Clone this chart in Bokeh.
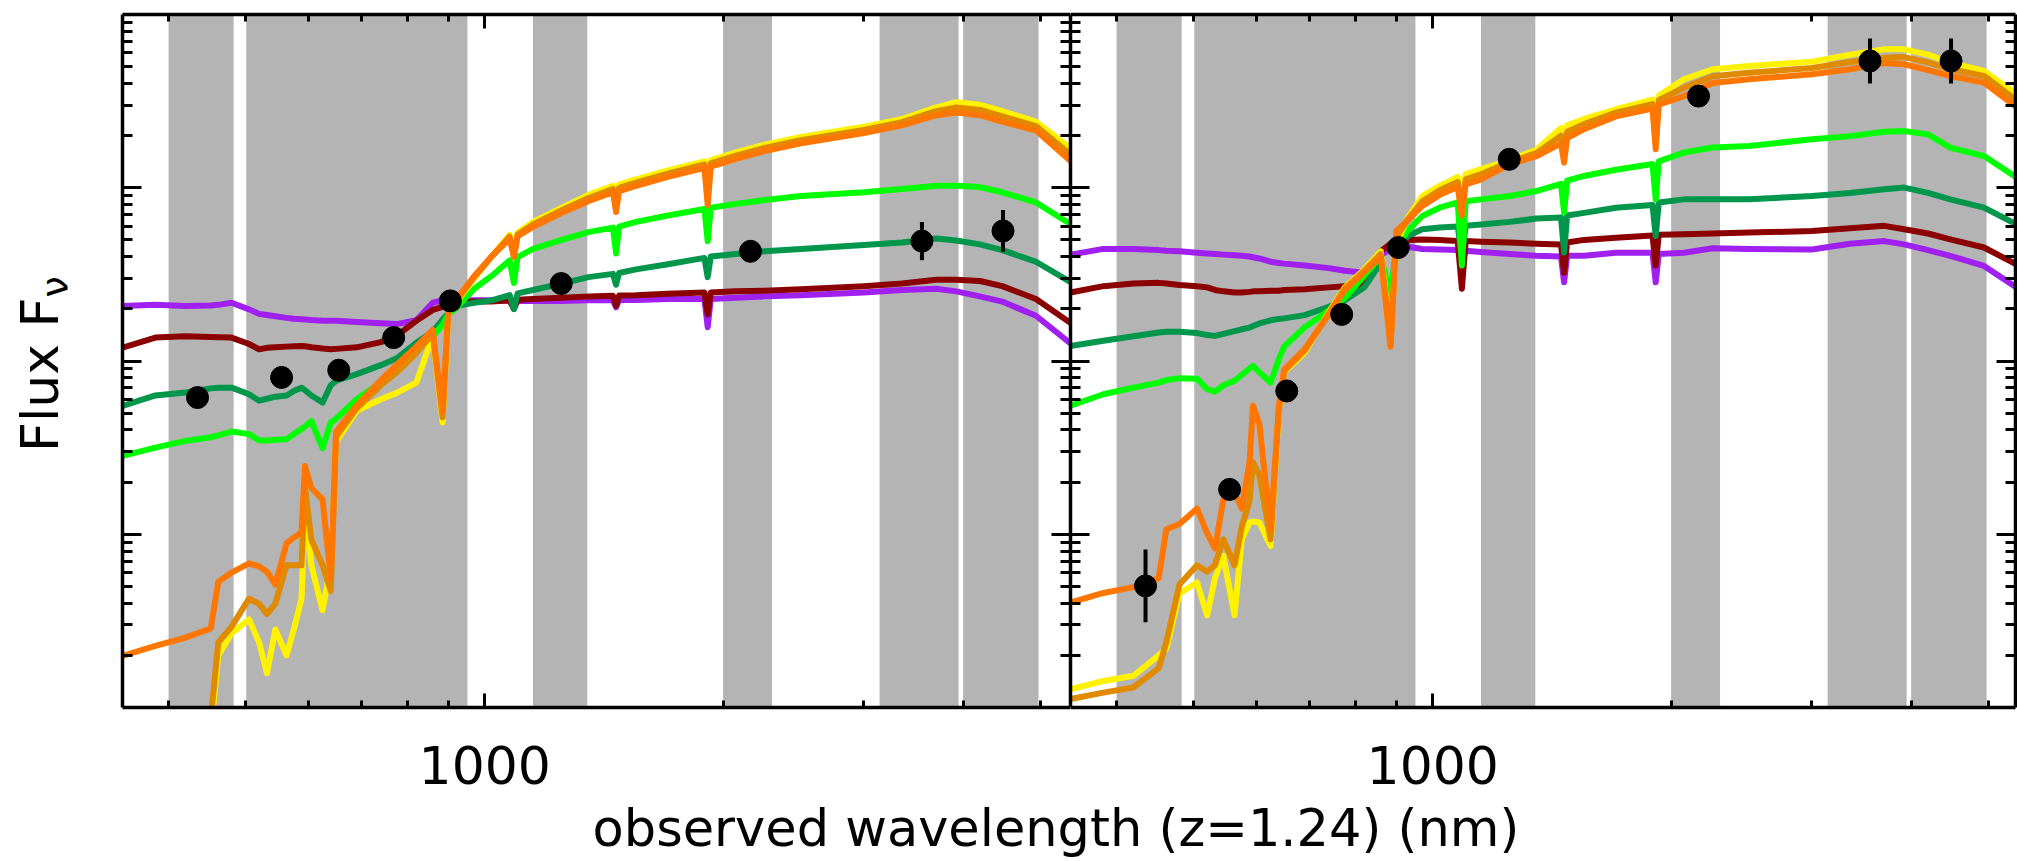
import math
from bokeh.plotting import figure
from bokeh.models import (LogAxis, FixedTicker, CustomJSTickFormatter, PrintfTickFormatter,
                          BoxAnnotation, Div)
from bokeh.layouts import row, column
from bokeh.embed import file_html
from bokeh.resources import INLINE

# ---------------- data ----------------
# observed wavelength grid of the model spectra (nm)
wavelength_nm = [350, 385, 420, 452, 462, 480, 505, 520, 532, 545,
                 563, 575, 588, 594, 605, 625, 640, 650, 690, 740,
                 775, 820, 860, 885, 900, 930, 970, 1020, 1075, 1088,
                 1100, 1150, 1250, 1350, 1450, 1463, 1476, 1550, 1700, 1890,
                 1908, 1925, 2070, 2250, 2500, 3000, 3350, 3700, 3920, 4200,
                 4480, 4940, 5470]

# log10 F_nu (arbitrary units) of the seven model spectra, left galaxy
left_purple_log = [0.318, 0.324, 0.317, 0.321, 0.324, 0.336, 0.298, 0.272, 0.265, 0.258,
                   0.249, 0.244, 0.241, 0.239, 0.236, 0.233, 0.232, 0.232, 0.225, 0.218,
                   0.213, 0.235, 0.336, 0.350, 0.350, 0.350, 0.350, 0.350, 0.347, 0.31,
                   0.347, 0.347, 0.347, 0.350, 0.350, 0.31, 0.352, 0.352, 0.358, 0.358,
                   0.195, 0.358, 0.365, 0.373, 0.380, 0.395, 0.410, 0.417, 0.402, 0.373,
                   0.343, 0.261, 0.098]
left_darkred_log = [0.077, 0.135, 0.143, 0.139, 0.137, 0.135, 0.098, 0.068, 0.076, 0.079,
                    0.083, 0.085, 0.087, 0.085, 0.079, 0.072, 0.068, 0.070, 0.079, 0.109,
                    0.146, 0.232, 0.295, 0.313, 0.324, 0.336, 0.343, 0.343, 0.350, 0.30,
                    0.354, 0.358, 0.365, 0.373, 0.376, 0.32, 0.378, 0.380, 0.388, 0.395,
                    0.269, 0.395, 0.402, 0.406, 0.414, 0.432, 0.447, 0.469, 0.469, 0.462,
                    0.432, 0.358, 0.217]
left_darkgreen_log = [-0.259, -0.199, -0.182, -0.158, -0.154, -0.154, -0.192, -0.229, -0.218, -0.206,
                      -0.199, -0.173, -0.154, -0.169, -0.199, -0.240, -0.140, -0.114, -0.076, -0.024,
                      0.016, 0.105, 0.169, 0.239, 0.276, 0.321, 0.336, 0.350, 0.380, 0.30,
                      0.390, 0.410, 0.447, 0.484, 0.503, 0.44, 0.508, 0.529, 0.558, 0.595,
                      0.484, 0.603, 0.618, 0.633, 0.647, 0.670, 0.684, 0.707, 0.696, 0.673,
                      0.640, 0.573, 0.454]
left_green_log = [-0.548, -0.500, -0.461, -0.440, -0.429, -0.407, -0.422, -0.459, -0.459, -0.455,
                  -0.451, -0.422, -0.393, -0.377, -0.347, -0.503, -0.355, -0.333, -0.221, -0.125,
                  -0.050, 0.076, 0.143, 0.209, 0.269, 0.328, 0.417, 0.491, 0.581, 0.45,
                  0.600, 0.647, 0.699, 0.744, 0.770, 0.62, 0.775, 0.803, 0.840, 0.877,
                  0.692, 0.885, 0.907, 0.929, 0.952, 0.974, 0.993, 1.011, 1.011, 1.004,
                  0.974, 0.915, 0.788]
left_orange_log = [-1.702, -1.645, -1.597, -1.543, -1.275, -1.221, -1.168, -1.186, -1.216, -1.290,
                   -1.053, -1.019, -0.990, -0.606, -0.733, -0.800, -1.253, -0.407, -0.258, -0.110,
                   -0.021, 0.083, 0.180, -0.295, 0.306, 0.380, 0.491, 0.603, 0.707, 0.60,
                   0.720, 0.774, 0.855, 0.922, 0.974, 0.86, 0.980, 1.011, 1.063, 1.115,
                   0.900, 1.122, 1.167, 1.212, 1.256, 1.316, 1.360, 1.419, 1.434, 1.419,
                   1.382, 1.330, 1.152]
left_amber_log = [-2.367, -2.292, -2.218, -2.070, -1.624, -1.535, -1.372, -1.402, -1.461, -1.402,
                  -1.179, -1.179, -1.179, -0.733, -1.030, -1.179, -1.327, -0.437, -0.273, -0.140,
                  -0.065, 0.046, 0.157, -0.325, 0.291, 0.373, 0.484, 0.603, 0.718, 0.61,
                  0.730, 0.788, 0.870, 0.941, 0.993, 0.89, 1.000, 1.030, 1.082, 1.134,
                  0.937, 1.141, 1.186, 1.230, 1.275, 1.334, 1.379, 1.442, 1.464, 1.449,
                  1.412, 1.356, 1.189]
left_yellow_log = [-2.367, -2.292, -2.218, -2.144, -1.699, -1.572, -1.491, -1.624, -1.803, -1.550,
                   -1.699, -1.550, -1.372, -0.845, -1.179, -1.439, -1.179, -0.466, -0.288, -0.221,
                   -0.184, -0.125, 0.143, -0.355, 0.284, 0.365, 0.477, 0.603, 0.729, 0.62,
                   0.740, 0.803, 0.885, 0.959, 1.011, 0.90, 1.020, 1.048, 1.100, 1.152,
                   0.974, 1.160, 1.204, 1.249, 1.293, 1.353, 1.397, 1.464, 1.494, 1.479,
                   1.442, 1.382, 1.226]

# log10 F_nu of the seven model spectra, right galaxy
right_purple_log = [0.614, 0.647, 0.647, 0.640, 0.636, 0.633, 0.625, 0.621, 0.618, 0.614,
                    0.610, 0.607, 0.603, 0.599, 0.592, 0.573, 0.566, 0.562, 0.551, 0.536,
                    0.521, 0.510, 0.610, 0.647, 0.662, 0.659, 0.647, 0.644, 0.640, 0.566,
                    0.636, 0.629, 0.618, 0.607, 0.603, 0.454, 0.607, 0.607, 0.625, 0.625,
                    0.454, 0.618, 0.625, 0.651, 0.647, 0.644, 0.677, 0.692, 0.673, 0.640,
                    0.607, 0.549, 0.414]
right_darkred_log = [0.395, 0.432, 0.447, 0.451, 0.447, 0.439, 0.432, 0.425, 0.410, 0.402,
                     0.395, 0.395, 0.399, 0.402, 0.402, 0.405, 0.406, 0.410, 0.414, 0.425,
                     0.432, 0.439, 0.633, 0.677, 0.688, 0.699, 0.702, 0.699, 0.692, 0.417,
                     0.692, 0.688, 0.684, 0.677, 0.673, 0.510, 0.684, 0.699, 0.712, 0.725,
                     0.551, 0.729, 0.731, 0.736, 0.741, 0.750, 0.766, 0.780, 0.760, 0.736,
                     0.702, 0.655, 0.549]
right_darkgreen_log = [0.087, 0.117, 0.143, 0.165, 0.169, 0.169, 0.161, 0.150, 0.145, 0.157,
                       0.172, 0.183, 0.193, 0.202, 0.217, 0.235, 0.243, 0.246, 0.265, 0.313,
                       0.350, 0.425, 0.566, 0.380, 0.640, 0.722, 0.760, 0.770, 0.777, 0.603,
                       0.781, 0.788, 0.803, 0.822, 0.828, 0.626, 0.840, 0.855, 0.885, 0.900,
                       0.722, 0.915, 0.933, 0.933, 0.933, 0.952, 0.970, 0.991, 1.001, 0.970,
                       0.933, 0.885, 0.780]
right_green_log = [-0.258, -0.192, -0.154, -0.125, -0.110, -0.099, -0.102, -0.162, -0.177, -0.140,
                   -0.114, -0.080, -0.043, -0.028, -0.065, -0.125, 0.009, 0.083, 0.195, 0.291,
                   0.365, 0.491, 0.603, 0.380, 0.662, 0.751, 0.837, 0.885, 0.915, 0.551,
                   0.922, 0.933, 0.952, 0.981, 1.022, 0.857, 1.041, 1.068, 1.104, 1.137,
                   0.933, 1.152, 1.203, 1.232, 1.241, 1.280, 1.298, 1.323, 1.327, 1.308,
                   1.232, 1.183, 1.049]
right_orange_log = [-1.394, -1.339, -1.305, -1.253, -0.971, -0.941, -0.852, -0.993, -1.082, -0.800,
                    -0.759, -0.852, -0.585, -0.258, -0.362, -0.971, -0.273, -0.050, 0.068, 0.269,
                    0.410, 0.514, 0.603, 0.083, 0.751, 0.811, 0.895, 0.959, 1.004, 0.840,
                    1.019, 1.048, 1.137, 1.182, 1.256, 1.145, 1.286, 1.338, 1.412, 1.457,
                    1.222, 1.479, 1.529, 1.605, 1.626, 1.655, 1.684, 1.720, 1.713, 1.679,
                    1.645, 1.607, 1.453]
right_amber_log = [-1.951, -1.914, -1.884, -1.773, -1.624, -1.290, -1.179, -1.216, -1.179, -1.030,
                   -1.179, -0.956, -0.808, -0.585, -0.659, -1.030, -0.281, -0.058, 0.061, 0.276,
                   0.417, 0.521, 0.618, 0.113, 0.714, 0.818, 0.922, 0.985, 1.033, 0.870,
                   1.048, 1.078, 1.148, 1.200, 1.301, 1.182, 1.323, 1.367, 1.434, 1.483,
                   1.271, 1.505, 1.578, 1.644, 1.664, 1.691, 1.726, 1.751, 1.754, 1.724,
                   1.684, 1.645, 1.492]
right_yellow_log = [-1.895, -1.847, -1.817, -1.699, -1.661, -1.342, -1.278, -1.468, -1.253, -1.125,
                    -1.468, -1.030, -0.932, -0.926, -0.932, -1.068, -0.288, -0.065, 0.049, 0.284,
                    0.425, 0.529, 0.633, 0.143, 0.677, 0.826, 0.952, 1.011, 1.063, 0.900,
                    1.078, 1.108, 1.160, 1.219, 1.345, 1.212, 1.360, 1.397, 1.453, 1.509,
                    1.308, 1.531, 1.626, 1.684, 1.703, 1.728, 1.768, 1.799, 1.799, 1.768,
                    1.722, 1.674, 1.529]

# photometry (B V R i z J K 3.6um 4.5um)
phot_wavelength_nm = [435, 555, 655, 768, 905, 1248, 2160, 3550, 4490]
left_phot_log = [-0.211, -0.095, -0.053, 0.135, 0.347, 0.447, 0.633, 0.692, 0.751]
left_phot_err = [0.03, 0.03, 0.03, 0.03, 0.03, 0.03, 0.04, 0.11, 0.12]
right_phot_log = [-1.298, -0.741, -0.173, 0.269, 0.655, 1.164, 1.529, 1.732, 1.732]
right_phot_err = [0.21, 0.04, 0.03, 0.03, 0.03, 0.03, 0.04, 0.13, 0.13]

# shaded filter bands (nm)
band_lo_nm = [400, 501, 1150, 1995, 3140, 4000]
band_hi_nm = [483, 951, 1346, 2299, 3948, 4977]

# axis ticks
x_major_ticks = [1000]
x_minor_ticks = [400, 500, 600, 700, 800, 900, 2000, 3000, 4000, 5000]
y_major_ticks = [0.1, 1, 10]
y_minor_ticks = [0.02, 0.03, 0.04, 0.05, 0.06, 0.07, 0.08, 0.09,
                 0.2, 0.3, 0.4, 0.5, 0.6, 0.7, 0.8, 0.9,
                 2, 3, 4, 5, 6, 7, 8, 9,
                 20, 30, 40, 50, 60, 70, 80, 90]

CURVE_COLORS = ["#a020f0", "#8b0000", "#00964b", "#00ff00", "#fff200", "#e08a00", "#ff7700"]
FONT = "DejaVu Sans"
FIG_H = 14 + 693 + 100


def flux(logs):
    return [10 ** v for v in logs]


def style_axis(ax, tin, tmin, labels):
    ax.axis_line_width = 3.5
    ax.axis_line_color = "black"
    ax.major_tick_in = tin
    ax.major_tick_out = 0
    ax.minor_tick_in = tmin
    ax.minor_tick_out = 0
    ax.major_tick_line_width = 3
    ax.minor_tick_line_width = 3
    ax.major_tick_line_color = "black"
    ax.minor_tick_line_color = "black"
    if labels:
        ax.formatter = PrintfTickFormatter(format="%d")
        ax.major_label_text_font = FONT
        ax.major_label_text_font_size = "52px"
        ax.major_label_text_color = "black"
        ax.major_label_standoff = 38
    else:
        ax.formatter = CustomJSTickFormatter(code="return ''")
        ax.major_label_text_font_size = "0px"
        ax.major_label_standoff = 0


def make_panel(curves, phot_log, phot_err, x_end, frame_w, border_left, border_right):
    p = figure(x_axis_type="log", y_axis_type="log", x_range=(350, x_end), y_range=(0.01, 100),
               frame_width=frame_w, frame_height=693,
               min_border_left=border_left, min_border_right=border_right,
               min_border_top=14, min_border_bottom=100,
               output_backend="svg", toolbar_location=None,
               background_fill_color="white", border_fill_color="white")
    p.outline_line_color = None
    p.grid.visible = False

    for lo, hi in zip(band_lo_nm, band_hi_nm):
        p.add_layout(BoxAnnotation(left=lo, right=hi, fill_color="#b4b4b4", fill_alpha=1.0,
                                   line_color=None, level="underlay"))

    for logs, color in zip(curves, CURVE_COLORS):
        p.line(wavelength_nm, flux(logs), line_color=color, line_width=6, line_join="round")

    lo = [10 ** (v - e) for v, e in zip(phot_log, phot_err)]
    hi = [10 ** (v + e) for v, e in zip(phot_log, phot_err)]
    p.segment(x0=phot_wavelength_nm, y0=lo, x1=phot_wavelength_nm, y1=hi,
              line_color="black", line_width=4)
    p.scatter(phot_wavelength_nm, flux(phot_log), size=22, marker="circle",
              fill_color="black", line_color="black")

    p.xaxis.ticker = FixedTicker(ticks=x_major_ticks, minor_ticks=x_minor_ticks)
    p.yaxis.ticker = FixedTicker(ticks=y_major_ticks, minor_ticks=y_minor_ticks)
    style_axis(p.xaxis[0], 14, 7, True)
    style_axis(p.yaxis[0], 19, 10, False)
    top = LogAxis(ticker=FixedTicker(ticks=x_major_ticks, minor_ticks=x_minor_ticks))
    style_axis(top, 14, 7, False)
    p.add_layout(top, "above")
    right = LogAxis(ticker=FixedTicker(ticks=y_major_ticks, minor_ticks=y_minor_ticks))
    style_axis(right, 19, 10, False)
    p.add_layout(right, "right")
    return p


p1 = make_panel([left_purple_log, left_darkred_log, left_darkgreen_log, left_green_log,
                 left_yellow_log, left_amber_log, left_orange_log],
                left_phot_log, left_phot_err, 5460, 948, 4, 0)
p2 = make_panel([right_purple_log, right_darkred_log, right_darkgreen_log, right_green_log,
                 right_yellow_log, right_amber_log, right_orange_log],
                right_phot_log, right_phot_err, 5412, 945, 0, 2)

# y-axis title "Flux F_nu" (rotated, reads bottom to top)
ylabel = Div(text=('<div style="position:relative;width:118px;height:%dpx;overflow:hidden;">'
                   '<div style="position:absolute;left:14px;top:452px;transform:rotate(-90deg);'
                   'transform-origin:0 0;white-space:nowrap;font-family:\'DejaVu Sans\';'
                   'font-size:52px;line-height:52px;color:black;">Flux F'
                   '<span style="font-size:38px;position:relative;top:10px;">\u03bd</span>'
                   '</div></div>') % FIG_H,
             width=118, height=FIG_H, margin=(0, 0, 0, 0))

# x-axis title, centred under both panels
xlabel = Div(text=('<div style="font-family:\'DejaVu Sans\';font-size:51px;line-height:60px;'
                   'width:2017px;height:62px;box-sizing:border-box;'
                   'padding-left:95px;padding-top:0px;text-align:center;white-space:nowrap;color:black;">'
                   'observed wavelength (z=1.24) (nm)</div>'),
             width=2017, height=62, margin=(-8, 0, 0, 0))

layout = column(row(ylabel, p1, p2), xlabel)
open("out.html", "w").write(file_html(layout, INLINE))
